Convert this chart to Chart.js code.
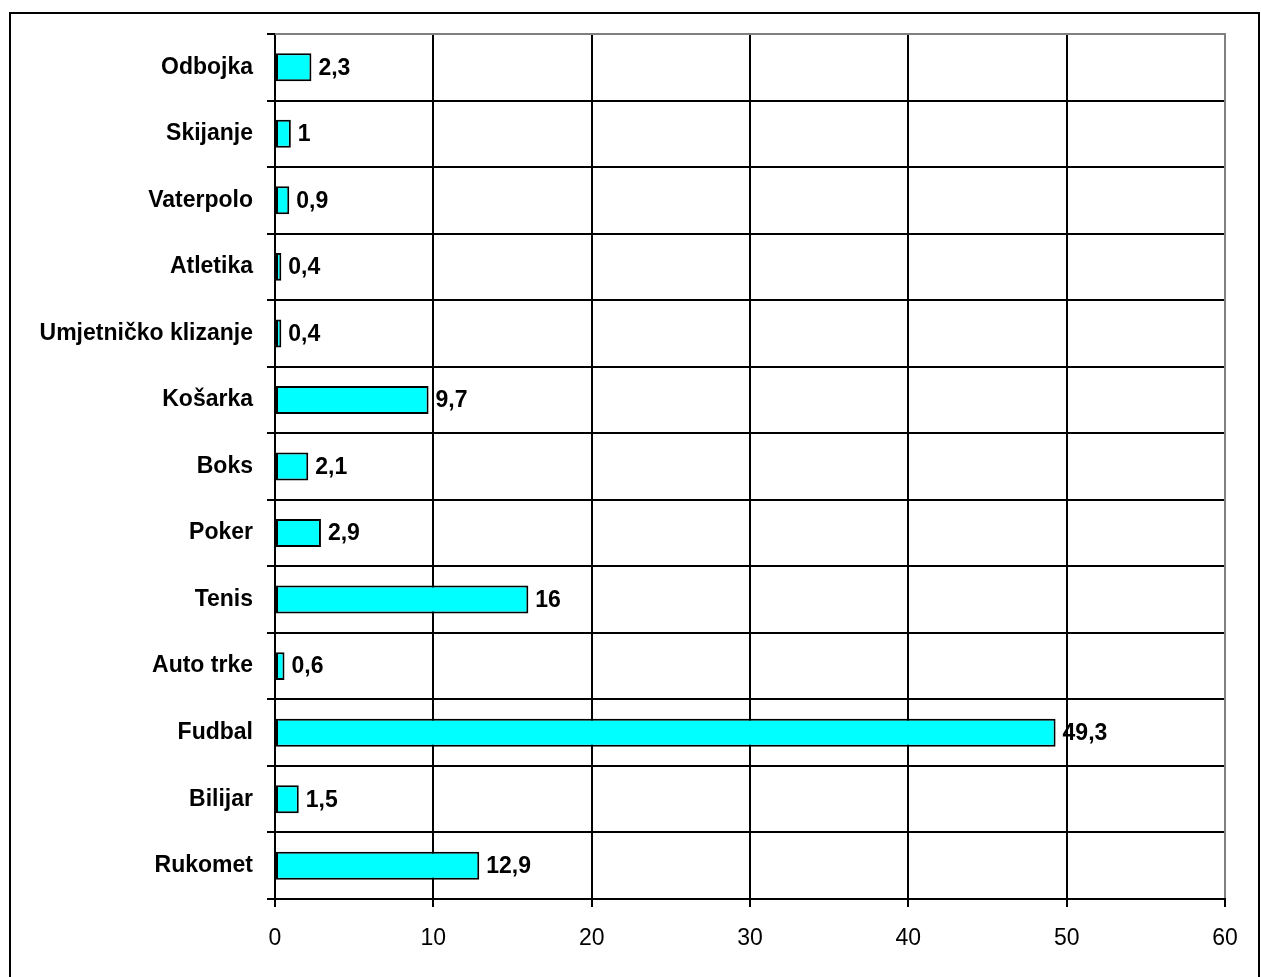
<!DOCTYPE html>
<html>
<head>
<meta charset="utf-8">
<script src="https://cdn.jsdelivr.net/npm/chart.js@4/dist/chart.umd.min.js"></script>
<style>
  html, body { margin: 0; padding: 0; background: #ffffff; }
  #c { display: block; }
</style>
</head>
<body>
<canvas id="c" width="1261" height="977"></canvas>
<script>
const categories = ["Odbojka", "Skijanje", "Vaterpolo", "Atletika", "Umjetničko klizanje", "Košarka", "Boks", "Poker", "Tenis", "Auto trke", "Fudbal", "Bilijar", "Rukomet"];
const values = [2.3, 1, 0.9, 0.4, 0.4, 9.7, 2.1, 2.9, 16, 0.6, 49.3, 1.5, 12.9];
const xMin = 0;
const xMax = 60;
const xStep = 10;

const FONT = "'Liberation Sans', Arial, sans-serif";

const valueLabels = {
  id: 'valueLabels',
  afterDatasetsDraw(chart) {
    const ctx = chart.ctx;
    const meta = chart.getDatasetMeta(0);
    ctx.save();
    ctx.font = "bold 23px " + FONT;
    ctx.fillStyle = '#000';
    ctx.textAlign = 'left';
    ctx.textBaseline = 'middle';
    meta.data.forEach((bar, i) => {
      const txt = String(values[i]).replace('.', ',');
      ctx.fillText(txt, bar.x + 7, bar.y + 1);
    });
    ctx.restore();
  }
};

const plotFrame = {
  id: 'plotFrame',
  beforeDatasetsDraw(chart) {
    const a = chart.chartArea;
    const ctx = chart.ctx;
    ctx.save();
    ctx.strokeStyle = '#808080';
    ctx.lineWidth = 2;
    ctx.beginPath();
    ctx.moveTo(a.left, a.top);
    ctx.lineTo(a.right, a.top);
    ctx.lineTo(a.right, a.bottom - 1);
    ctx.stroke();
    ctx.restore();
  },
  afterDraw(chart) {
    const ctx = chart.ctx;
    ctx.save();
    ctx.strokeStyle = '#000';
    ctx.lineWidth = 2;
    ctx.beginPath();
    ctx.moveTo(10, 990);
    ctx.lineTo(10, 13);
    ctx.lineTo(1259, 13);
    ctx.lineTo(1259, 990);
    ctx.stroke();
    ctx.restore();
  }
};

new Chart(document.getElementById('c'), {
  type: 'bar',
  data: {
    labels: categories,
    datasets: [{
      data: values,
      backgroundColor: '#00FFFF',
      borderColor: '#000000',
      borderWidth: 2,
      borderSkipped: false,
      categoryPercentage: 1,
      barPercentage: 0.42
    }]
  },
  options: {
    indexAxis: 'y',
    responsive: false,
    animation: false,
    layout: { padding: { top: 34, right: 36, left: 0, bottom: 0 } },
    plugins: {
      legend: { display: false },
      tooltip: { enabled: false }
    },
    scales: {
      x: {
        min: xMin,
        max: xMax,
        afterFit(scale) { scale.height = 78; },
        ticks: {
          stepSize: xStep,
          color: '#000',
          font: { family: FONT, size: 23 },
          padding: 18,
          maxRotation: 0
        },
        grid: { color: '#000', lineWidth: 2, tickLength: 8 },
        border: { color: '#000', width: 2 }
      },
      y: {
        afterFit(scale) { scale.width = 275; },
        ticks: {
          color: '#000',
          font: { family: FONT, size: 23, weight: 'bold' },
          padding: 14
        },
        grid: { color: '#000', lineWidth: 2, tickLength: 8, offset: true },
        border: { color: '#000', width: 2 }
      }
    }
  },
  plugins: [valueLabels, plotFrame]
});
</script>
</body>
</html>
